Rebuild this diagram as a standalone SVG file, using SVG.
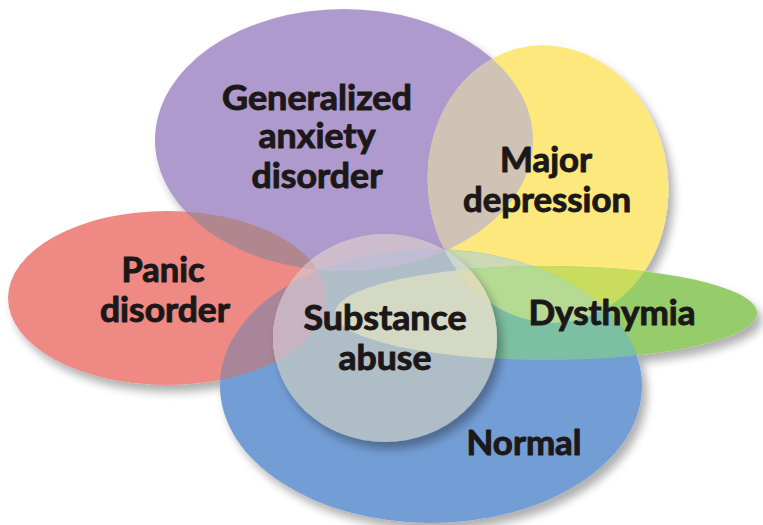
<svg xmlns="http://www.w3.org/2000/svg" xmlns:xlink="http://www.w3.org/1999/xlink" width="763" height="525" viewBox="0 0 763 525">
<style>
.lbl{font-family:Lato,"Open Sans","Liberation Sans",sans-serif;font-weight:700;font-size:35px;fill:#1c1819;stroke:#1c1819;stroke-width:1;stroke-linejoin:round;text-anchor:middle}
</style>
<defs>
<ellipse id="eR" cx="167" cy="298" rx="159" ry="87"/>
<ellipse id="eP" cx="344" cy="140" rx="189" ry="131"/>
<ellipse id="eY" cx="548" cy="184" rx="120" ry="139" transform="rotate(-8 548 184)"/>
<ellipse id="eG" cx="546" cy="313" rx="211" ry="47"/>
<ellipse id="eB" cx="431" cy="386" rx="211" ry="137"/>
<ellipse id="eS" cx="385" cy="338" rx="112" ry="104"/>
<clipPath id="cR"><use href="#eR"/></clipPath>
<clipPath id="cP"><use href="#eP"/></clipPath>
<clipPath id="cY"><use href="#eY"/></clipPath>
<clipPath id="cG"><use href="#eG"/></clipPath>
<clipPath id="cB"><use href="#eB"/></clipPath>
<clipPath id="cS"><use href="#eS"/></clipPath>
<filter id="sh" x="-10%" y="-10%" width="125%" height="130%">
<feGaussianBlur in="SourceAlpha" stdDeviation="5"/>
<feOffset dx="5" dy="7"/>
<feComponentTransfer><feFuncA type="linear" slope="0.32"/></feComponentTransfer>
<feMerge><feMergeNode/><feMergeNode in="SourceGraphic"/></feMerge>
</filter>
</defs>

<g id="base" filter="url(#sh)">
<g id="node-panic"><use href="#eR" fill="#ef8984"/></g>
<g id="node-gad"><use href="#eP" fill="#ae9acc"/></g>
<g id="node-depression"><use href="#eY" fill="#fce87b"/></g>
<g id="node-dysthymia"><use href="#eG" fill="#96cc6b"/></g>
<g id="node-normal"><use href="#eB" fill="#739dd5"/></g>
</g>

<g id="overlaps">
<g clip-path="url(#cY)"><use href="#eP" fill="#cec3b5"/></g>
<g clip-path="url(#cP)"><use href="#eR" fill="#b0868f"/></g>
<g clip-path="url(#cB)"><use href="#eR" fill="#a9859a"/></g>
<g clip-path="url(#cB)"><use href="#eP" fill="#a7a3cf"/></g>
<g clip-path="url(#cB)"><use href="#eY" fill="#cbdab5"/></g>
<g clip-path="url(#cG)"><use href="#eY" fill="#c9dc5e"/></g>
<g clip-path="url(#cB)"><use href="#eG" fill="#7dbfa2"/></g>
<g clip-path="url(#cB)"><g clip-path="url(#cG)"><use href="#eY" fill="#b5db93"/></g></g>
</g>

<g id="node-substance">
<use href="#eS" fill="#aebdc6" filter="url(#sh)"/>
<g clip-path="url(#cS)">
<use href="#eR" fill="#dcb6b6"/>
<g clip-path="url(#cB)"><use href="#eR" fill="#c8b3c0"/></g>
<use href="#eP" fill="#cdbdcc"/>
<g clip-path="url(#cR)"><use href="#eP" fill="#cfadb5"/></g>
<g clip-path="url(#cB)"><use href="#eP" fill="#bfbcd3"/></g>
<use href="#eY" fill="#ddd9b5"/>
<g clip-path="url(#cB)"><use href="#eY" fill="#c8d8cc"/></g>
<use href="#eG" fill="#d4d9c3"/>
<g clip-path="url(#cG)"><use href="#eY" fill="#dcdbb3"/></g>
</g>
</g>

<g id="labels">
<text class="lbl" x="317" y="110" textLength="190" lengthAdjust="spacingAndGlyphs">Generalized</text>
<text class="lbl" x="317" y="148" textLength="117" lengthAdjust="spacingAndGlyphs">anxiety</text>
<text class="lbl" x="317" y="188" textLength="131" lengthAdjust="spacingAndGlyphs">disorder</text>
<text class="lbl" x="546" y="172" textLength="92" lengthAdjust="spacingAndGlyphs">Major</text>
<text class="lbl" x="547" y="212" textLength="168" lengthAdjust="spacingAndGlyphs">depression</text>
<text class="lbl" x="163" y="282" textLength="83" lengthAdjust="spacingAndGlyphs">Panic</text>
<text class="lbl" x="165" y="322" textLength="130" lengthAdjust="spacingAndGlyphs">disorder</text>
<text class="lbl" x="612" y="325" textLength="167" lengthAdjust="spacingAndGlyphs">Dysthymia</text>
<text class="lbl" x="385" y="330" textLength="163" lengthAdjust="spacingAndGlyphs">Substance</text>
<text class="lbl" x="385" y="370" textLength="93" lengthAdjust="spacingAndGlyphs">abuse</text>
<text class="lbl" x="524" y="455" textLength="115" lengthAdjust="spacingAndGlyphs">Normal</text>
</g>
</svg>
